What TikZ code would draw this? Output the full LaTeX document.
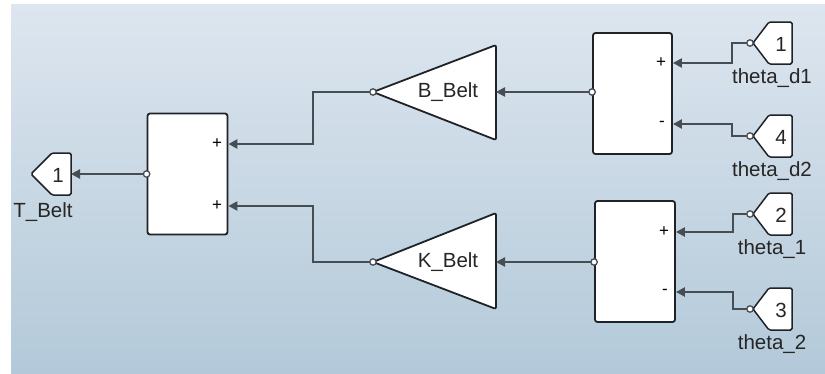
\documentclass[tikz,border=0pt]{standalone}
\usepackage{fontspec}
\setmainfont{Liberation Sans}
\usetikzlibrary{arrows.meta}
\definecolor{bgtop}{HTML}{DDE6EF}
\definecolor{bgbot}{HTML}{B3C9D9}
\definecolor{wire}{HTML}{464D53}
\definecolor{edge}{HTML}{1F2327}
\tikzset{
  blk/.style={draw=edge, line width=1.8pt, fill=white, rounded corners=2.5pt},
  sumblk/.style={blk, minimum width=80pt, minimum height=121pt, inner sep=0pt},
  wirestyle/.style={draw=wire, line width=2.3pt, -{Triangle[length=9pt,width=9pt]}},
  oport/.style={draw=wire, line width=1.3pt, fill=white},
  lbl/.style={font=\fontsize{20.5}{22}\selectfont, text=black!85, inner sep=0pt},
  sgn/.style={font=\fontsize{17}{18}\selectfont, text=black, inner sep=0pt},
}
\begin{document}
\begin{tikzpicture}[x=1pt,y=-1pt]
\useasboundingbox (0,0) rectangle (825,373);
\fill[white] (0,0) rectangle (825,373);
\shade[top color=bgtop, bottom color=bgbot] (11,4) rectangle (825,373);

% sum blocks
\node[sumblk] (s1) at (187.5,174) {};
\node[sumblk, minimum height=121pt, minimum width=79pt] (s2) at (632.5,93.5) {};
\node[sumblk, minimum height=121pt, minimum width=80pt] (s3) at (635,261.5) {};
\node[sgn] (s1p1) at (217,144) {+};
\node[sgn] (s1p2) at (217,206) {+};
\node[sgn] (s2p1) at (661,63) {+};
\node[sgn] (s2p2) at (662,124) {-};
\node[sgn] (s3p1) at (664,232) {+};
\node[sgn] (s3p2) at (665,292) {-};

% gains
\draw[blk, rounded corners=2pt] (373,92) -- (496,45) -- (496,140) -- cycle;
\node[lbl] (gB) at (448,92) {B\_Belt};
\coordinate (gBin) at (496,92);
\coordinate (gBout) at (373,92);
\draw[blk, rounded corners=2pt] (373,262) -- (496,213) -- (496,309) -- cycle;
\node[lbl] (gK) at (448,262) {K\_Belt};
\coordinate (gKin) at (496,262);
\coordinate (gKout) at (373,262);

% outport
\draw[blk, line width=1.5pt, rounded corners=1.5pt] (31,174) -- (52,153) -- (71,153) -- (71,195) -- (52,195) -- cycle;
\node[lbl] (o1) at (58,175) {1};
\node[lbl] (o1l) at (43,212) {T\_Belt};
\coordinate (o1in) at (71,174);

% inports
\foreach \n/\y/\num/\txt in {i1/43/1/theta\_d1, i4/136/4/theta\_d2, i2/214/2/theta\_1, i3/309/3/theta\_2}{
  \draw[blk, line width=1.5pt, rounded corners=1.5pt] (753,\y) -- (769,\y-21) -- (792,\y-21) -- (792,\y+21) -- (769,\y+21) -- cycle;
  \node[lbl] (\n) at (781,\y+1) {\num};
  \node[lbl] (\n l) at (772,\y+35) {\txt};
  \coordinate (\n out) at (750,\y);
}

% wires
\draw[wirestyle] (i1out) -- (732,43) -- (732,63) -- (s2.east |- s2p1);
\draw[wirestyle] (i4out) -- (732,136) -- (732,124) -- (s2.east |- s2p2);
\draw[wirestyle] (i2out) -- (733,214) -- (733,232) -- (s3.east |- s3p1);
\draw[wirestyle] (i3out) -- (733,309) -- (733,292) -- (s3.east |- s3p2);
\draw[wirestyle] (s2.west |- gBin) -- (gBin);
\draw[wirestyle] (s3.west |- gKin) -- (gKin);
\draw[wirestyle] (gBout) -- (313,92) -- (313,144) -- (s1.east |- s1p1);
\draw[wirestyle] (gKout) -- (313,262) -- (313,206) -- (s1.east |- s1p2);
\draw[wirestyle] (s1.west |- o1in) -- (o1in);

% output port circles
\foreach \p in {gBout, gKout, i1out, i4out, i2out, i3out}{
  \draw[oport] (\p) circle (3.2pt);
}
\draw[oport] (s1.west |- o1in) circle (3.2pt);
\draw[oport] (s2.west |- gBin) circle (3.2pt);
\draw[oport] (s3.west |- gKin) circle (3.2pt);
\end{tikzpicture}
\end{document}
